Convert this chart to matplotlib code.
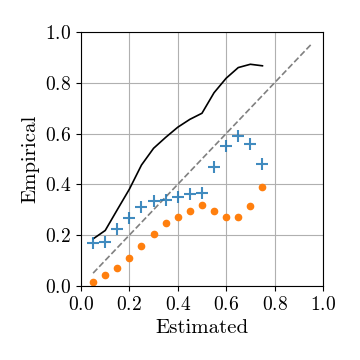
import matplotlib
matplotlib.use("Agg")
from matplotlib import pyplot as plt
import numpy as np

plt.rcParams['font.family'] = 'cmr10'
plt.rcParams['mathtext.fontset'] = 'cm'
plt.rcParams['axes.formatter.use_mathtext'] = True

# Dados
estimado = [0.05, 0.10, 0.15, 0.20, 0.25, 0.30, 0.35, 0.40,
            0.45, 0.50, 0.55, 0.60, 0.65, 0.70, 0.75]
curva_preta = [0.185, 0.218, 0.30, 0.381, 0.476, 0.542, 0.585, 0.625,
               0.656, 0.680, 0.761, 0.818, 0.860, 0.873, 0.867]
azul = [0.168, 0.174, 0.224, 0.268, 0.311, 0.335, 0.339, 0.350,
        0.360, 0.364, 0.470, 0.552, 0.590, 0.560, 0.482]
laranja = [0.014, 0.043, 0.070, 0.110, 0.156, 0.203, 0.248, 0.272,
           0.295, 0.319, 0.295, 0.272, 0.272, 0.315, 0.390]
diagonal = [0.05, 0.95]

fig = plt.figure(figsize=(3.6, 3.6), dpi=100)
ax = fig.add_axes([0.225, 0.206, 0.672, 0.705])

ax.plot(diagonal, diagonal, '--', color='gray', lw=1.2)
ax.plot(estimado, curva_preta, '-', color='black', lw=1.2)
ax.plot(estimado, azul, '+', color='tab:blue', alpha=0.85, ms=9, mew=1.5, ls='none')
ax.plot(estimado, laranja, 'o', color='tab:orange', ms=4.5, ls='none')

ax.set_xlim(0, 1)
ax.set_ylim(0, 1)
ax.set_xticks(np.arange(0, 1.01, 0.2))
ax.set_yticks(np.arange(0, 1.01, 0.2))
ax.grid(True, color='#b0b0b0', lw=0.8)
ax.set_axisbelow(True)
ax.tick_params(labelsize=14)
ax.set_xlabel('Estimated', fontsize=15)
ax.set_ylabel('Empirical', fontsize=15)

fig.savefig('out.png', dpi=100)
